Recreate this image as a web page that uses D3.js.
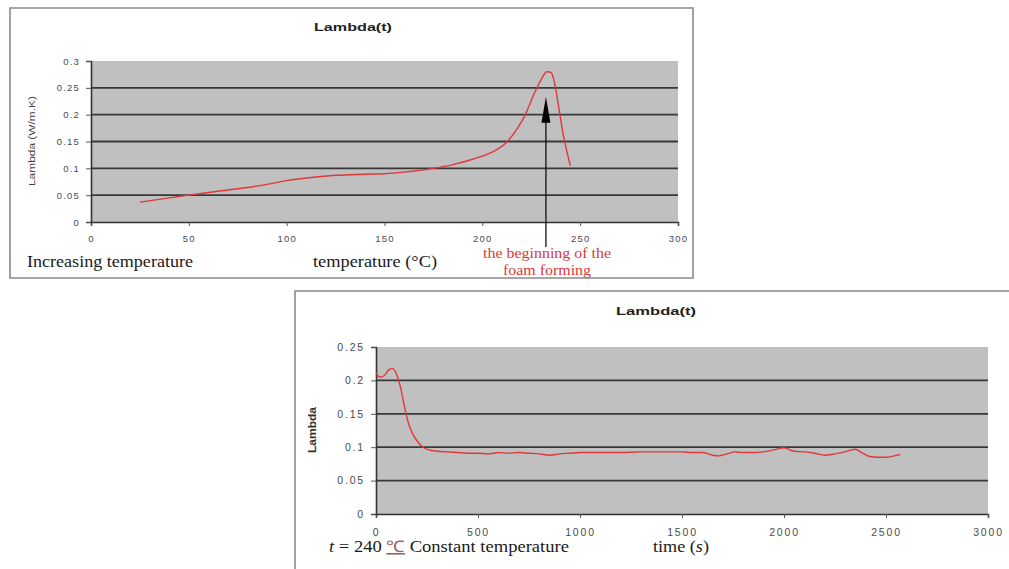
<!DOCTYPE html>
<html>
<head>
<meta charset="utf-8">
<script src="https://cdn.jsdelivr.net/npm/d3@7"></script>
<style>
  body { margin: 0; background: #fff; }
  svg { display: block; }
  .tick text { font-family: Arial, "Liberation Sans", sans-serif; fill: #4a4a4a; }
</style>
</head>
<body>
<svg id="chart" width="1009" height="569"></svg>
<script>
// top chart: lambda vs temperature
const tempX = [25, 40, 50, 60, 75, 90, 100, 110, 125, 140, 150, 160, 175, 185, 195, 205, 212, 218, 222, 226, 230, 233, 235, 237, 239, 241, 243, 245];
const tempLambda = [0.037, 0.045, 0.05, 0.055, 0.062, 0.07, 0.077, 0.082, 0.087, 0.089, 0.09, 0.093, 0.1, 0.107, 0.117, 0.13, 0.147, 0.175, 0.2, 0.235, 0.265, 0.28, 0.279, 0.258, 0.215, 0.17, 0.135, 0.105];
const tempXTicks = [0, 50, 100, 150, 200, 250, 300];
const tempYTicks = [0, 0.05, 0.1, 0.15, 0.2, 0.25, 0.3];

// bottom chart: lambda vs time at 240 C
const timeX = [0, 20, 40, 60, 80, 100, 120, 140, 160, 180, 200, 230, 260, 300, 350, 400, 450, 500, 550, 600, 650, 700, 750, 800, 850, 900, 950, 1000, 1100, 1200, 1300, 1400, 1500, 1550, 1600, 1650, 1680, 1720, 1760, 1800, 1850, 1900, 1950, 2000, 2050, 2100, 2150, 2200, 2250, 2300, 2350, 2380, 2420, 2460, 2500, 2540, 2570];
const timeLambda = [0.211, 0.205, 0.207, 0.215, 0.218, 0.21, 0.19, 0.16, 0.135, 0.12, 0.11, 0.1, 0.096, 0.094, 0.093, 0.092, 0.091, 0.091, 0.09, 0.092, 0.091, 0.092, 0.091, 0.09, 0.088, 0.09, 0.091, 0.092, 0.092, 0.092, 0.093, 0.093, 0.093, 0.092, 0.092, 0.088, 0.087, 0.09, 0.093, 0.092, 0.092, 0.093, 0.096, 0.099, 0.094, 0.093, 0.091, 0.088, 0.09, 0.093, 0.097, 0.092, 0.086, 0.085, 0.085, 0.087, 0.089];
const timeXTicks = [0, 500, 1000, 1500, 2000, 2500, 3000];
const timeYTicks = [0, 0.05, 0.1, 0.15, 0.2, 0.25];

const svg = d3.select("#chart");
const serif = "'Liberation Serif', 'Times New Roman', serif";
const sans = "Arial, 'Liberation Sans', sans-serif";

function drawPlot(o) {
	var g = svg.append("g");
	// frame
	g.append("path")
		.attr("d", o.frame)
		.attr("fill", "none")
		.attr("stroke", "#8a8a8a")
		.attr("stroke-width", 1.6);
	g.append("text")
		.attr("x", o.titleX).attr("y", o.titleY)
		.attr("text-anchor", "middle")
		.attr("textLength", o.titleW).attr("lengthAdjust", "spacingAndGlyphs")
		.style("font", "bold 10.5px " + sans)
		.attr("fill", "#222")
		.text("Lambda(t)");

	var x = d3.scaleLinear().domain(o.xDomain).range([o.left, o.right]);
	var y = d3.scaleLinear().domain(o.yDomain).range([o.bottom, o.top]);

	g.append("rect")
		.attr("x", o.left).attr("y", o.top)
		.attr("width", o.right - o.left).attr("height", o.bottom - o.top)
		.attr("fill", "#c0c0c0");

	// horizontal grid
	g.selectAll(".grid")
		.data(o.yTicks.filter(d => d > 0 && d < o.yDomain[1]))
		.enter().append("line")
		.attr("x1", o.left).attr("x2", o.right)
		.attr("y1", d => y(d)).attr("y2", d => y(d))
		.attr("stroke", "#383838")
		.attr("stroke-width", 1.8);

	var xAxis = g.append("g")
		.attr("transform", "translate(0," + o.bottom + ")")
		.call(d3.axisBottom(x).tickValues(o.xTicks).tickSize(4).tickPadding(o.xPad).tickFormat(d3.format("d")));
	var yAxis = g.append("g")
		.attr("transform", "translate(" + o.left + ",0)")
		.call(d3.axisLeft(y).tickValues(o.yTicks).tickSize(5).tickPadding(6).tickFormat(d => d));
	[xAxis, yAxis].forEach(a => {
		a.select(".domain").attr("stroke", "#333").attr("stroke-width", 1.6);
		a.selectAll(".tick line").attr("stroke", "#555");
		a.selectAll(".tick text")
			.style("font-size", o.tickFont + "px")
			.style("letter-spacing", o.tickSpace + "px");
	});

	var line = d3.line().x(d => x(d[0])).y(d => y(d[1])).curve(d3.curveMonotoneX);
	g.append("path")
		.datum(o.xs.map((v, i) => [v, o.ys[i]]))
		.attr("d", line)
		.attr("fill", "none")
		.attr("stroke", "#e03838")
		.attr("stroke-width", 1.4);

	return {g: g, x: x, y: y};
}

function serifText(g, x, y, size, width, color) {
	return g.append("text")
		.attr("x", x).attr("y", y)
		.attr("textLength", width).attr("lengthAdjust", "spacingAndGlyphs")
		.style("font", size + "px " + serif)
		.attr("fill", color || "#1a1a1a");
}

// ---- top chart
var top1 = drawPlot({
	frame: "M10,8H693V278H10Z",
	titleX: 353, titleY: 31, titleW: 78,
	left: 91, right: 678, top: 61, bottom: 222,
	xDomain: [0, 300], yDomain: [0, 0.3],
	xTicks: tempXTicks, yTicks: tempYTicks,
	xs: tempX, ys: tempLambda,
	tickFont: 9.5, tickSpace: 1.2, xPad: 9
});
top1.g.append("text")
	.attr("transform", "translate(35,141) rotate(-90)")
	.attr("text-anchor", "middle")
	.attr("textLength", 90).attr("lengthAdjust", "spacingAndGlyphs")
	.style("font", "8.5px " + sans)
	.attr("fill", "#444")
	.text("Lambda (W/m.K)");

// arrow marking the start of foaming
var ax = top1.x(232.5);
top1.g.append("line")
	.attr("x1", ax).attr("x2", ax)
	.attr("y1", 247).attr("y2", top1.y(0.19))
	.attr("stroke", "#111").attr("stroke-width", 1.3);
top1.g.append("path")
	.attr("d", "M" + ax + "," + top1.y(0.233) + "L" + (ax - 4.5) + "," + top1.y(0.185) + "L" + (ax + 4.5) + "," + top1.y(0.185) + "Z")
	.attr("fill", "#000");

serifText(top1.g, 27, 267, 16, 166).text("Increasing temperature");
serifText(top1.g, 313, 267, 16, 124).text("temperature (°C)");
serifText(top1.g, 483, 258, 15, 128, "#d83a3a").text("the beginning of the");
serifText(top1.g, 503, 275, 15, 88, "#d83a3a").text("foam forming");

// ---- bottom chart
var bot = drawPlot({
	frame: "M1009,291H295V569",
	titleX: 656, titleY: 315, titleW: 80,
	left: 376, right: 988, top: 347, bottom: 514,
	xDomain: [0, 3000], yDomain: [0, 0.25],
	xTicks: timeXTicks, yTicks: timeYTicks,
	xs: timeX, ys: timeLambda,
	tickFont: 10.5, tickSpace: 1.8, xPad: 11
});
bot.g.append("text")
	.attr("transform", "translate(316,430) rotate(-90)")
	.attr("text-anchor", "middle")
	.attr("textLength", 46).attr("lengthAdjust", "spacingAndGlyphs")
	.style("font", "bold 10px " + sans)
	.attr("fill", "#333")
	.text("Lambda");

var note = serifText(bot.g, 329, 552, 16, 240);
note.append("tspan").style("font-style", "italic").text("t");
note.append("tspan").text(" = 240 ");
note.append("tspan").attr("fill", "#9a6060").style("text-decoration", "underline").text("℃");
note.append("tspan").text(" Constant temperature");

var tl = serifText(bot.g, 653, 552, 16, 56);
tl.append("tspan").text("time (");
tl.append("tspan").style("font-style", "italic").text("s");
tl.append("tspan").text(")");
</script>
</body>
</html>
